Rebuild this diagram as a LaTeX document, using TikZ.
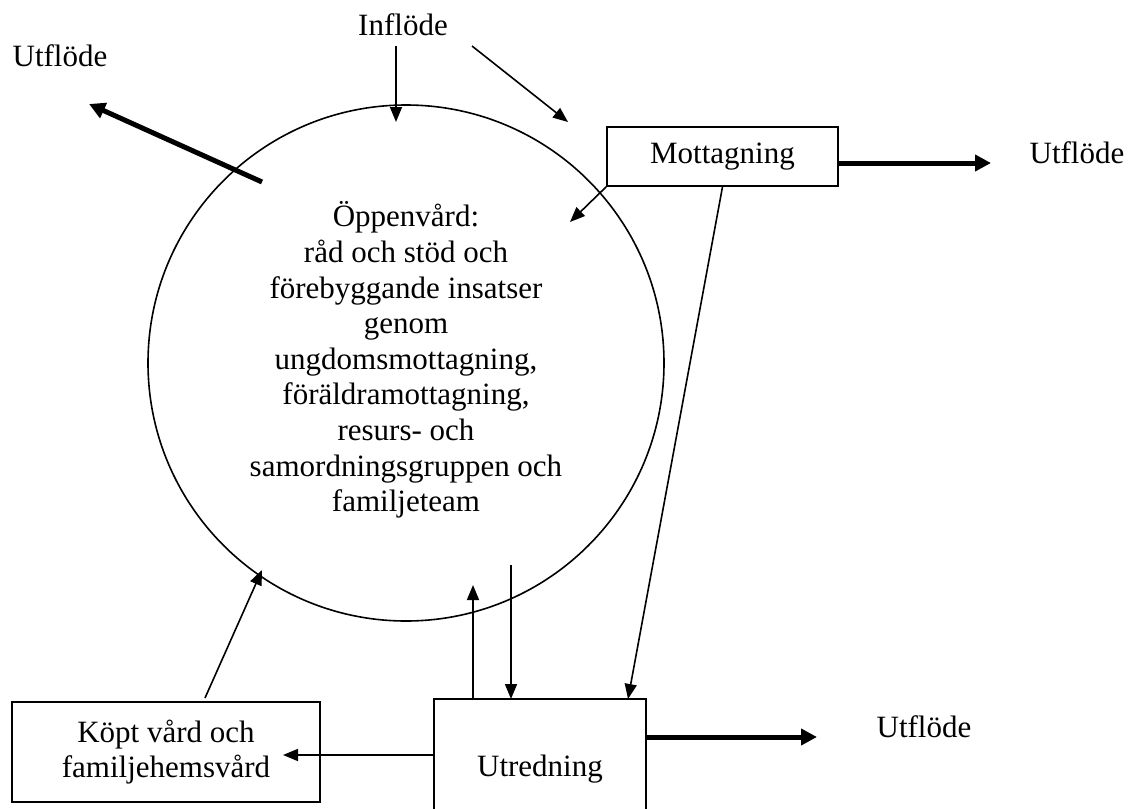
\documentclass[tikz,border=0pt]{standalone}
\usepackage{fontspec}
\setmainfont{Liberation Serif}
\usetikzlibrary{arrows.meta}
\begin{document}
\begin{tikzpicture}[x=1pt,y=-1pt,
  txt/.style={font=\fontsize{31}{35.6}\selectfont, inner sep=0pt, align=center},
  box/.style={draw, line width=1.6pt, inner sep=0pt, font=\fontsize{31}{35.6}\selectfont, align=center},
  thinarrow/.style={line width=1.6pt, -{Triangle[length=15pt,width=12pt]}},
  thickarrow/.style={line width=5pt, -{Triangle[length=16pt,width=16pt]}}]
\useasboundingbox (0,0) rectangle (1128,809);
% circle
\node[circle, draw, line width=1.6pt, minimum size=516pt, inner sep=0pt] (ov) at (406,363) {};
\node[txt] (ovt) at (406,360) {Öppenvård:\\råd och stöd och\\förebyggande insatser\\genom\\ungdomsmottagning,\\föräldramottagning,\\resurs- och\\samordningsgruppen och\\familjeteam};
% boxes
\node[box, minimum width=231pt, minimum height=59pt] (mott) at (722.5,156.5) {Mottagning};
\node[box, minimum width=212pt, minimum height=141pt] (utr) at (540,769.5) {Utredning};
\node[box, minimum width=308pt, minimum height=100pt] (kopt) at (166,752) {Köpt vård och\\familjehemsvård};
% labels
\node[txt] (infl) at (403,24.5) {Inflöde};
\node[txt] (ut1) at (60,56) {Utflöde};
\node[txt] (ut2) at (1077,152.5) {Utflöde};
\node[txt] (ut3) at (924,727) {Utflöde};
% coordinates
\coordinate (inA) at (396,46);
\coordinate (inB) at (396,122);
\coordinate (dgA) at (472,46);
\coordinate (dgB) at (568,122);
\coordinate (u1A) at (262,182);
\coordinate (u1B) at (89,104);
\coordinate (mcB) at (570,222);
\coordinate (muB) at (628,699);
\coordinate (upA) at (473,699);
\coordinate (upB) at (473,585);
\coordinate (dnA) at (511,565);
\coordinate (dnB) at (511,699);
\coordinate (ukA) at (434,755);
\coordinate (ukB) at (283,755);
\coordinate (kcA) at (205,698);
\coordinate (kcB) at (262,570);
\coordinate (m2A) at (838,163);
\coordinate (m2B) at (991,163);
\coordinate (u3A) at (646,737);
\coordinate (u3B) at (817,737);
% connectors
\draw[thinarrow] (inA) -- (inB);
\draw[thinarrow] (dgA) -- (dgB);
\draw[thickarrow] (u1A) -- (u1B);
\draw[thinarrow] (mott.south west) -- (mcB);
\draw[thinarrow] (mott.south) -- (muB);
\draw[thinarrow] (upA) -- (upB);
\draw[thinarrow] (dnA) -- (dnB);
\draw[thinarrow] (ukA) -- (ukB);
\draw[thinarrow] (kcA) -- (kcB);
\draw[thickarrow] (m2A) -- (m2B);
\draw[thickarrow] (u3A) -- (u3B);
\end{tikzpicture}
\end{document}
